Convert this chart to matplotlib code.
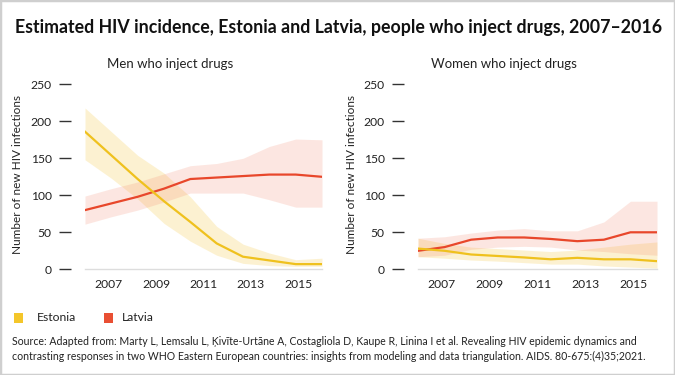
import numpy as np
import matplotlib
matplotlib.use("Agg")
import matplotlib.pyplot as plt
from matplotlib.patches import Rectangle

# ---- data (10 annual estimates spread over the axis range) ----
n_points = 10
x_start, x_end = 2006, 2016
x_ticks = [2007, 2009, 2011, 2013, 2015]
y_ticks = [0, 50, 100, 150, 200, 250]

men_estonia = [186, 154, 122, 92, 64, 35, 17, 12, 7, 7]
men_estonia_hi = [218, 186, 154, 130, 98, 58, 34, 22, 13, 15]
men_estonia_lo = [148, 123, 95, 62, 38, 19, 8, 5, 4, 4]
men_latvia = [80, 89, 98, 109, 122, 124, 126, 128, 128, 125]
men_latvia_hi = [99, 109, 118, 129, 140, 143, 150, 166, 176, 175]
men_latvia_lo = [61, 71, 80, 91, 103, 103, 103, 94, 84, 84]

women_estonia = [28, 25, 20, 18, 16, 13.5, 15.5, 13.5, 13.5, 11]
women_estonia_hi = [42, 35, 30, 28, 26, 24, 26, 30, 34, 37]
women_estonia_lo = [17, 15, 12.5, 11, 9, 7, 7, 4.5, 3, 1.5]
women_latvia = [25, 30, 40, 43, 43, 41, 38, 40, 50, 50]
women_latvia_hi = [42, 44, 49, 53, 55, 52, 52, 64, 92, 92]
women_latvia_lo = [17, 19, 27, 30, 31, 30, 26, 24, 21, 19]

title = "Estimated HIV incidence, Estonia and Latvia, people who inject drugs, 2007\u20132016"
panel_titles = ["Men who inject drugs", "Women who inject drugs"]
y_label = "Number of new HIV infections"
legend_labels = ["Estonia", "Latvia"]
source = ("Source: Adapted from: Marty L, Lemsalu L, \u0136ivīte-Urtāne A, Costagliola D, Kaupe R, Linina I et al. Revealing HIV epidemic dynamics and\n"
          "contrasting responses in two WHO Eastern European countries: insights from modeling and data triangulation. AIDS. 80-675:(4)35;2021.")

# ---- style ----
YEL = "#EFC11E"
YEL_BAND = "#F5C842"
RED = "#E8472B"
RED_BAND = "#F4866A"
TXT = "#222222"
plt.rcParams['font.family'] = ['Lato', 'DejaVu Sans']

fig = plt.figure(figsize=(6.75, 3.75), dpi=100)
W, H = 675, 375

def axes_px(left, right, top, bottom):
    return fig.add_axes([left / W, 1 - bottom / H, (right - left) / W, (bottom - top) / H])

x = np.linspace(x_start, x_end, n_points)

panels = [
    (85, 322, men_estonia, men_estonia_lo, men_estonia_hi, men_latvia, men_latvia_lo, men_latvia_hi),
    (418, 657, women_estonia, women_estonia_lo, women_estonia_hi, women_latvia, women_latvia_lo, women_latvia_hi),
]
title_x = [170, 504]
ylabel_x = [18, 352]

for i, (l, r, e, elo, ehi, lv, llo, lhi) in enumerate(panels):
    ax = axes_px(l, r, 80.6, 269.3)
    ax.fill_between(x, elo, ehi, color=YEL_BAND, alpha=0.24, lw=0)
    ax.fill_between(x, llo, lhi, color=RED_BAND, alpha=0.2, lw=0)
    ax.plot(x, lv, color=RED, lw=1.6, solid_joinstyle='round')
    ax.plot(x, e, color=YEL, lw=1.6, solid_joinstyle='round')
    ax.set_xlim(x_start, x_end)
    ax.set_ylim(0, 255)
    ax.set_yticks(y_ticks)
    ax.set_xticks(x_ticks)
    ax.set_xticklabels([str(t) for t in x_ticks])
    for s in ['top', 'right']:
        ax.spines[s].set_visible(False)
    ax.spines['left'].set_position(('outward', 10))
    ax.spines['left'].set_color('none')
    ax.spines['bottom'].set_color('#DDDDDD')
    ax.spines['bottom'].set_linewidth(1.0)
    ax.tick_params(axis='y', length=9, width=1.0, color='#333333', pad=5,
                   labelsize=8.7, labelcolor=TXT)
    ax.tick_params(axis='x', length=0, pad=7, labelsize=8.7, labelcolor=TXT)
    ax.set_facecolor('none')
    fig.text(title_x[i] / W, 1 - 64 / H, panel_titles[i], ha='center', va='center',
             fontsize=9.5, color=TXT)
    fig.text(ylabel_x[i] / W, 1 - 175 / H, y_label, ha='center', va='center',
             rotation=90, fontsize=8.5, color=TXT)

fig.text(339 / W, 1 - 27 / H, title, ha='center', va='center', fontsize=12.8,
         fontweight='bold', color='#111111')

# legend
for (lx, col, lab, tx) in [(14, "#F4C62A", legend_labels[0], 37), (104, "#E94F33", legend_labels[1], 122)]:
    fig.patches.append(Rectangle((lx / W, 1 - 322.5 / H), 9 / W, 10 / H,
                                 transform=fig.transFigure, color=col, lw=0))
    fig.text(tx / W, 1 - 317.5 / H, lab, ha='left', va='center', fontsize=8.7, color=TXT)

fig.text(12 / W, 1 - 349 / H, source, ha='left', va='center', fontsize=7.6,
         color=TXT, linespacing=1.45)

# frame
fig.patches.append(Rectangle((0, 0), 1, 1, transform=fig.transFigure, fill=False,
                             edgecolor='#CFCFCF', lw=2.5))

fig.savefig("out.png", dpi=100)
